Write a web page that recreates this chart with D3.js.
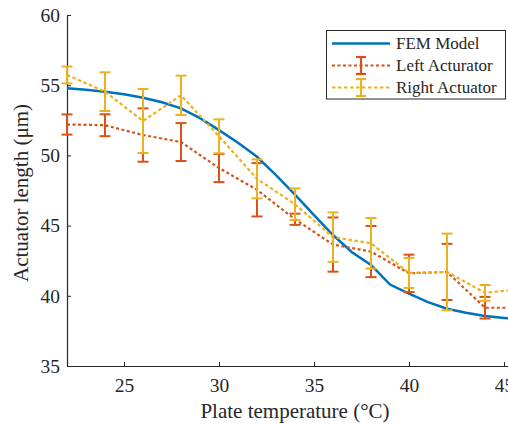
<!DOCTYPE html>
<html><head><meta charset="utf-8">
<script src="https://cdn.jsdelivr.net/npm/d3@7"></script>
<style>body{margin:0;background:#fff}svg{display:block}</style>
</head><body>
<svg id="c" width="508" height="425"></svg>
<script>
const temps = [22,24,26,28,30,32,34,36,38,40,42,44,46];
const leftMean = [52.2,52.15,51.45,50.95,49.1,47.55,45.45,43.65,43.15,41.6,41.7,39.15,39.15];
const leftErr  = [0.72,0.78,1.9,1.35,1.0,1.9,0.4,1.93,1.82,1.33,2.0,0.77,0.5];
const rightMean = [55.73,54.54,52.45,54.28,51.36,48.33,46.52,44.18,43.74,41.63,41.7,40.21,40.5];
const rightErr  = [0.6,1.38,2.28,1.4,1.21,1.39,1.13,1.76,1.8,1.07,2.73,0.56,0.5];
const femT = [22,23,24,25,26,27,28,29,30,31,32,33,34,35,36,37,38,39,40,41,42,43,44,45,46];
const femV = [54.78,54.68,54.54,54.35,54.11,53.78,53.35,52.65,51.8,50.9,49.9,48.6,47.2,45.75,44.33,43.1,42.2,40.8,40.15,39.55,39.08,38.8,38.56,38.42,38.3];
const xTicks = [25,30,35,40,45];
const yTicks = [35,40,45,50,55,60];
const seriesNames = ["FEM Model","Left Acturator","Right Actuator"];

const colBlue="#0072BD", colRed="#D95319", colYel="#EDB120", axCol="#262626";
const font="Liberation Serif, DejaVu Serif, serif";

const svg=d3.select("#c");
const x=d3.scaleLinear().domain([22,46]).range([67,523]);
const y=d3.scaleLinear().domain([35,60]).range([366,15]);

// axes
const gx=svg.append("g").attr("transform",`translate(0,${y(35)})`)
  .call(d3.axisBottom(x).tickValues(xTicks).tickSizeInner(-4).tickSizeOuter(0).tickPadding(12).tickFormat(d3.format("d")));
const gy=svg.append("g").attr("transform",`translate(${x(22)},0)`)
  .call(d3.axisLeft(y).tickValues(yTicks).tickSizeInner(-4).tickSizeOuter(0).tickPadding(7).tickFormat(d3.format("d")));
[gx,gy].forEach(g=>{
  g.attr("font-family",font).attr("font-size",19.5);
  g.select(".domain").attr("stroke",axCol).attr("stroke-width",1.2);
  g.selectAll(".tick line").attr("stroke",axCol).attr("stroke-width",1);
  g.selectAll(".tick text").attr("fill",axCol);
});

// FEM line
svg.append("path").datum(femT.map((t,i)=>[t,femV[i]]))
  .attr("fill","none").attr("stroke",colBlue).attr("stroke-width",2.5)
  .attr("d",d3.line().x(d=>x(d[0])).y(d=>y(d[1])));

function drawSeries(mean,err,col,dash){
  const data=temps.map((t,i)=>({t,m:mean[i],e:err[i]}));
  svg.append("path").datum(data).attr("fill","none").attr("stroke",col)
    .attr("stroke-width",2.2).attr("stroke-dasharray",dash)
    .attr("d",d3.line().x(d=>x(d.t)).y(d=>y(d.m)));
  const g=svg.append("g").attr("stroke",col).attr("stroke-width",2);
  data.forEach(d=>{
    const cx=x(d.t);
    g.append("line").attr("x1",cx).attr("x2",cx).attr("y1",y(d.m+d.e)).attr("y2",y(d.m-d.e));
    g.append("line").attr("x1",cx-5.5).attr("x2",cx+5.5).attr("y1",y(d.m+d.e)).attr("y2",y(d.m+d.e));
    g.append("line").attr("x1",cx-5.5).attr("x2",cx+5.5).attr("y1",y(d.m-d.e)).attr("y2",y(d.m-d.e));
  });
}
drawSeries(leftMean,leftErr,colRed,"3,2.5");
drawSeries(rightMean,rightErr,colYel,"3.5,2.5");

// axis labels
svg.append("text").attr("x",x(34)).attr("y",418).attr("text-anchor","middle")
  .attr("fill",axCol).attr("font-family",font).attr("font-size",21).text("Plate temperature (°C)");
svg.append("text").attr("transform",`translate(28,193) rotate(-90)`).attr("text-anchor","middle")
  .attr("fill",axCol).attr("font-family",font).attr("font-size",21).text("Actuator length (μm)");

// legend
const lg=svg.append("g");
lg.append("rect").attr("x",326.5).attr("y",30.5).attr("width",179).attr("height",68.5)
  .attr("fill","#fff").attr("stroke",axCol).attr("stroke-width",1);
const rows=[43.5,65.5,87.5];
const cols=[colBlue,colRed,colYel];
rows.forEach((ry,i)=>{
  const l=lg.append("line").attr("x1",332).attr("x2",390).attr("y1",ry).attr("y2",ry)
    .attr("stroke",cols[i]).attr("stroke-width",i===0?2.5:2.2);
  if(i>0){
    l.attr("stroke-dasharray",i===1?"3,2.5":"3.5,2.5");
    const cx=361;
    lg.append("line").attr("x1",cx).attr("x2",cx).attr("y1",ry-8.5).attr("y2",ry+8.5).attr("stroke",cols[i]).attr("stroke-width",2.2);
    lg.append("line").attr("x1",cx-5).attr("x2",cx+5).attr("y1",ry-8.5).attr("y2",ry-8.5).attr("stroke",cols[i]).attr("stroke-width",2.2);
    lg.append("line").attr("x1",cx-5).attr("x2",cx+5).attr("y1",ry+8.5).attr("y2",ry+8.5).attr("stroke",cols[i]).attr("stroke-width",2.2);
  }
  lg.append("text").attr("x",396).attr("y",ry).attr("dy","0.35em").attr("fill",axCol)
    .attr("font-family",font).attr("font-size",17).text(seriesNames[i]);
});
</script>
</body></html>
